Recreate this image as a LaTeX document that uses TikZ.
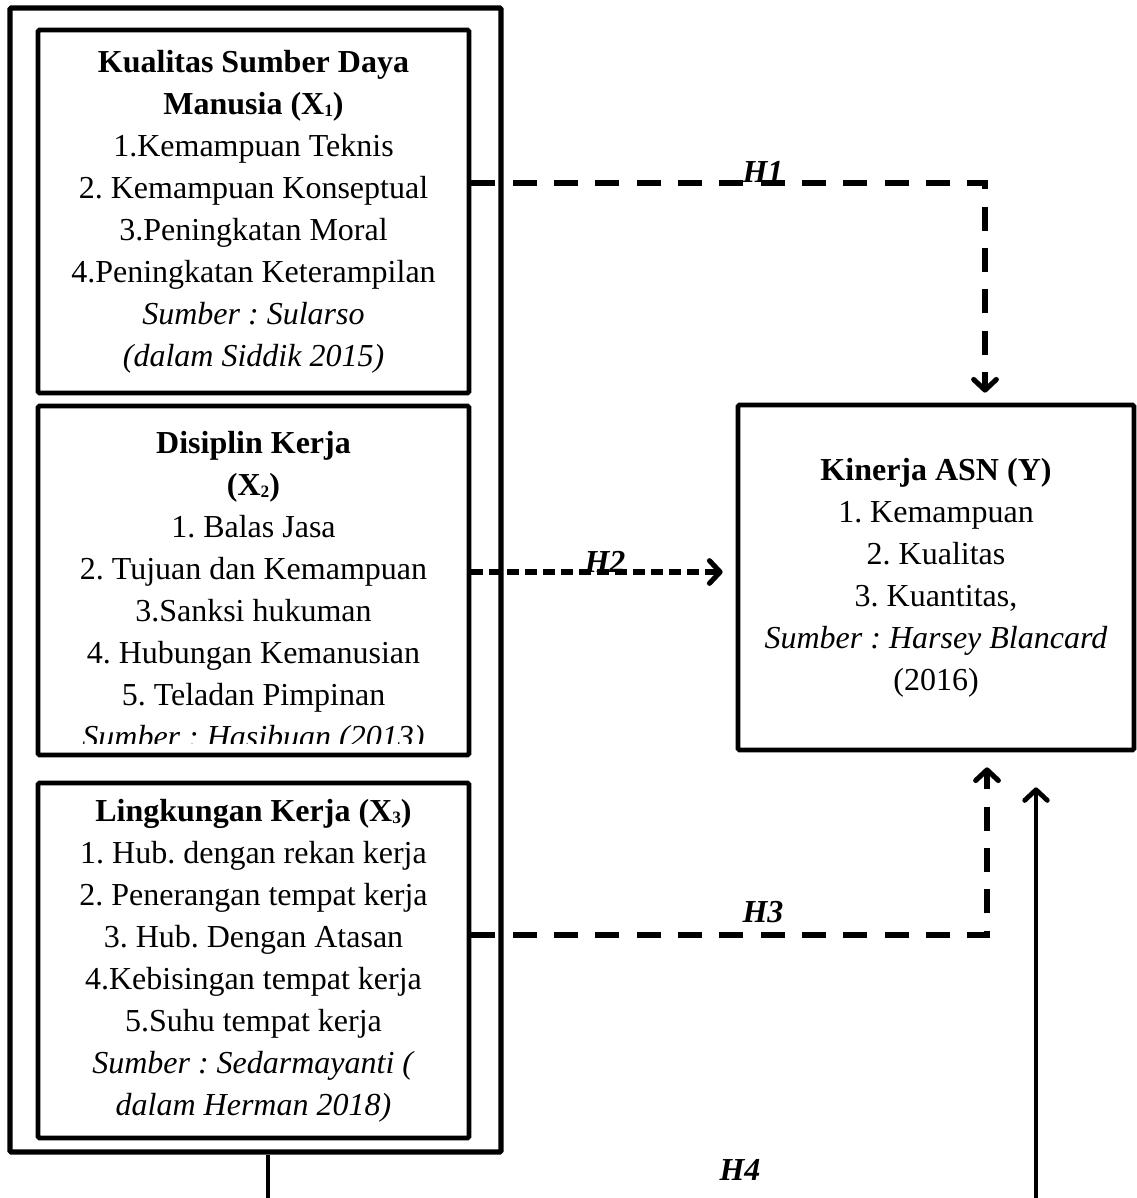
\documentclass[tikz,border=0pt]{standalone}
\usepackage{fontspec}
\setmainfont{Liberation Serif}
\usetikzlibrary{calc,positioning,arrows.meta}
\frenchspacing
\newcommand\xsub[1]{\raisebox{-1.5pt}{\fontsize{13}{13}\selectfont #1}}

\begin{document}
\begin{tikzpicture}[x=0.75pt,y=0.75pt,font=\fontsize{24}{31.5}\selectfont]
  \tikzset{ box/.style={draw,line width=3.5pt,rounded corners=1pt,inner sep=0pt,align=center,minimum width=323.25pt},
    txt/.style={inner sep=0pt,align=center},
    hyp/.style={line width=3.8pt,dash pattern=on 18pt off 13pt,-{Straight Barb[length=8pt,width=17pt,round]}},
    hypshort/.style={hyp,dash pattern=on 9pt off 4.5pt},
    hlbl/.style={font=\fontsize{24}{28}\selectfont\bfseries\itshape},
  }
  \useasboundingbox (0,0) rectangle (1136,-1198);

  % variables X
  \node[box,line width=3.8pt,minimum width=368.25pt,minimum height=858pt] (frame) at (255.5,-580) {};
  \node[box,minimum height=272.25pt] (kualitas) at (253.5,-211.5) {\textbf{Kualitas Sumber Daya}\\
    \textbf{Manusia (X\xsub{1})}\\ 1.Kemampuan Teknis\\ 2. Kemampuan Konseptual\\
    3.Peningkatan Moral\\ 4.Peningkatan Keterampilan\\ \textit{Sumber : Sularso}\\ \textit{(dalam Siddik 2015)}};
  \node[box,minimum height=261.75pt] (disiplin) at (253.5,-580.5) {};
  \begin{scope}
    \clip ($(disiplin.north west)+(3,-3)$) rectangle (disiplin.east |- 0,-743);
    \node[txt] (disiplintxt) at (253.5,-593) {\textbf{Disiplin Kerja}\\ \textbf{(X\xsub{2})}\\
      1. Balas Jasa\\ 2. Tujuan dan Kemampuan\\ 3.Sanksi hukuman\\ 4. Hubungan Kemanusian\\
      5. Teladan Pimpinan\\ \textit{Sumber : Hasibuan (2013)}};
  \end{scope}
  \node[box,minimum height=266.25pt] (lingkungan) at (253.5,-960.5) {\textbf{Lingkungan Kerja (X\xsub{3})}\\
    1. Hub. dengan rekan kerja\\ 2. Penerangan tempat kerja\\ 3. Hub. Dengan Atasan\\
    4.Kebisingan tempat kerja\\ 5.Suhu tempat kerja\\ \textit{Sumber : Sedarmayanti (}\\ \textit{dalam Herman 2018)}};

  % variable Y
  \node[box,minimum width=297pt,minimum height=258.75pt] (kinerja) at (936,-577.5) {\textbf{Kinerja ASN (Y)}\\
    1. Kemampuan\\ 2. Kualitas\\ 3. Kuantitas,\\ \textit{Sumber : Harsey Blancard}\\ (2016)};

  % the hypotheses
  \draw[hyp] ($(kualitas.east)+(0,28.5)$) -| ($(kinerja.north)+(49,10)$);
  \node[hlbl] (h1) at (763,-172) {H1};
  \draw[hypshort] ($(disiplin.east)+(0,8.5)$) -- ($(kinerja.west)+(-13,5.5)$);
  \node[hlbl] (h2) at (605,-562) {H2};
  \draw[hyp] ($(lingkungan.east)+(0,25.5)$) -| ($(kinerja.south)+(51,-15)$);
  \node[hlbl] (h3) at (763,-912) {H3};

  \coordinate (h4a) at ($(frame.south)+(12.5,-46)$);
  \coordinate (h4b) at (1036,-1198);
  \draw[line width=3.6pt] ($(frame.south)+(12.5,0)$) -- (h4a);
  \draw[line width=3.6pt,-{Straight Barb[length=8pt,width=17pt,round]}] (h4b) -- ($(kinerja.south)+(100,-35)$);
  \node[hlbl] (h4) at (740,-1170) {H4};
\end{tikzpicture}
\end{document}
